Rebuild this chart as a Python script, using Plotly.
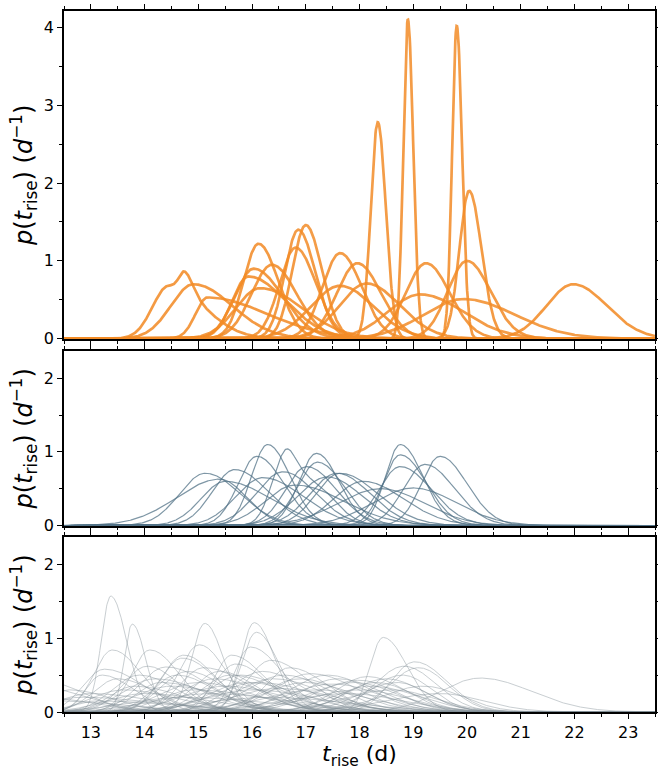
import numpy as np
import plotly.graph_objects as go

# ---------------- data ----------------
# each density curve: peak position (d), peak height (1/d), left / right widths (d)
# curves sharing the same group id are summed into one line
TOP_GROUP  = [0, 1, 2, 3, 4, 5, 5, 6, 7, 8, 9, 10, 11, 12, 13, 14, 15, 16, 17, 18, 19, 20, 21, 22, 23]
TOP_CENTER = [18.90, 19.81, 18.34, 20.04, 21.98, 14.45, 14.75, 14.91, 15.17, 16.12, 16.03, 15.93, 16.37, 16.15,
              16.86, 17.00, 16.81, 17.64, 17.96, 17.64, 18.13, 19.24, 20.00, 19.13, 19.94]
TOP_PEAK   = [4.10, 4.02, 2.78, 1.90, 0.70, 0.68, 0.25, 0.70, 0.53, 1.22, 0.90, 0.80, 0.95, 0.65,
              1.40, 1.46, 1.17, 1.10, 0.97, 0.68, 0.71, 0.97, 1.00, 0.57, 0.51]
TOP_WL     = [0.085, 0.085, 0.13, 0.18, 0.50, 0.30, 0.10, 0.42, 0.22, 0.28, 0.35, 0.30, 0.38, 0.45,
              0.25, 0.25, 0.30, 0.33, 0.38, 0.55, 0.50, 0.38, 0.36, 0.60, 0.75]
TOP_WR     = [0.10, 0.10, 0.15, 0.23, 0.62, 0.65, 0.15, 0.72, 1.10, 0.37, 0.54, 0.70, 0.46, 0.78,
              0.32, 0.30, 0.38, 0.40, 0.44, 0.62, 0.62, 0.44, 0.44, 0.80, 0.95]

MID_GROUP  = [0, 1, 2, 3, 4, 5, 6, 6, 7, 8, 9, 10, 11, 12, 13, 14, 15, 16, 17, 18, 19, 20, 21, 22, 23]
MID_CENTER = [15.13, 15.68, 15.40, 15.50, 16.09, 16.29, 16.60, 17.05, 17.20, 17.22, 17.02, 16.58, 17.58,
              17.40, 17.64, 18.07, 18.76, 18.76, 18.76, 19.22, 19.50, 19.00, 18.40, 16.80, 16.20]
MID_PEAK   = [0.71, 0.76, 0.63, 0.60, 0.94, 1.10, 0.82, 0.60, 0.98, 0.86, 0.80, 0.73, 0.71,
              0.66, 0.71, 0.60, 1.10, 0.96, 0.80, 0.83, 0.94, 0.51, 0.50, 0.55, 0.65]
MID_WL     = [0.48, 0.42, 0.80, 0.45, 0.35, 0.30, 0.25, 0.30, 0.33, 0.38, 0.40, 0.50, 0.50,
              0.55, 0.45, 0.55, 0.28, 0.32, 0.40, 0.40, 0.35, 0.75, 0.80, 0.55, 0.50]
MID_WR     = [0.65, 0.62, 0.50, 0.85, 0.50, 0.42, 0.20, 0.45, 0.42, 0.50, 0.55, 0.60, 0.62,
              0.65, 0.70, 0.75, 0.42, 0.48, 0.58, 0.55, 0.50, 0.80, 0.80, 0.90, 0.75]

BOT_CENTER = [13.37, 13.77, 13.40, 14.10, 15.12, 15.02, 14.73, 14.70, 16.04, 16.08, 15.97, 15.62, 13.25, 14.40,
              15.10, 16.35, 17.10, 18.44, 19.03, 18.83, 19.10, 20.25, 18.15, 18.00, 12.20, 12.00, 12.30, 13.90,
              14.20, 14.80, 15.40, 15.80, 16.20, 16.60, 17.00, 17.50, 17.90, 18.50, 18.70, 19.20, 13.60, 14.00,
              14.50, 15.00, 15.50, 16.00, 16.50, 17.20, 18.00, 18.60, 13.00, 12.80, 13.50, 14.60, 15.30, 15.70,
              16.40, 16.90, 17.60, 18.30, 14.30, 14.90, 15.90, 13.80, 12.60, 13.10, 17.80, 19.50, 16.70, 15.60,
              14.05, 18.80, 17.40, 16.10, 15.20, 13.20, 12.40, 14.70, 18.20, 16.30]
BOT_PEAK   = [1.57, 1.19, 0.84, 0.84, 1.20, 0.91, 0.77, 0.73, 1.21, 1.08, 0.88, 0.77, 0.58, 0.61,
              0.60, 0.70, 0.52, 1.01, 0.68, 0.62, 0.60, 0.46, 0.48, 0.43, 0.40, 0.34, 0.18, 0.50,
              0.45, 0.55, 0.55, 0.50, 0.55, 0.50, 0.40, 0.38, 0.40, 0.45, 0.40, 0.35, 0.30, 0.25,
              0.35, 0.40, 0.35, 0.30, 0.32, 0.30, 0.30, 0.30, 0.25, 0.20, 0.45, 0.50, 0.45, 0.65,
              0.45, 0.45, 0.45, 0.40, 0.40, 0.30, 0.40, 0.35, 0.30, 0.15, 0.25, 0.25, 0.60, 0.50,
              0.62, 0.50, 0.50, 0.40, 0.25, 0.50, 0.15, 0.20, 0.35, 0.20]
BOT_WL     = [0.18, 0.15, 0.35, 0.35, 0.25, 0.38, 0.42, 0.40, 0.25, 0.28, 0.30, 0.32, 0.40, 0.50,
              0.45, 0.45, 0.70, 0.25, 0.45, 0.55, 0.55, 0.75, 0.60, 0.80, 0.60, 0.60, 0.50, 0.50,
              0.60, 0.50, 0.50, 0.60, 0.60, 0.70, 0.80, 0.85, 0.85, 0.70, 0.70, 0.80, 0.60, 0.70,
              0.70, 0.70, 0.80, 0.90, 0.90, 1.00, 1.00, 0.90, 0.60, 0.50, 0.45, 0.45, 0.60, 0.40,
              0.70, 0.70, 0.70, 0.60, 0.45, 0.60, 0.70, 0.45, 0.35, 0.40, 1.20, 1.00, 0.45, 0.55,
              0.45, 0.60, 0.70, 0.80, 1.00, 0.30, 0.40, 1.00, 0.70, 1.20]
BOT_WR     = [0.30, 0.25, 0.55, 0.55, 0.35, 0.50, 0.60, 0.65, 0.38, 0.42, 0.60, 0.62, 0.75, 0.80,
              0.85, 0.70, 0.85, 0.45, 0.60, 0.60, 0.55, 0.95, 0.70, 0.70, 0.70, 0.90, 0.80, 0.70,
              0.90, 0.70, 0.70, 0.80, 0.75, 0.80, 0.90, 0.90, 0.80, 0.70, 0.60, 0.70, 1.00, 1.20,
              1.00, 1.00, 1.10, 1.20, 1.10, 1.00, 0.90, 0.80, 1.20, 1.50, 0.70, 0.70, 0.90, 0.60,
              0.90, 0.80, 0.80, 0.70, 1.00, 1.40, 1.00, 0.90, 0.80, 1.50, 1.00, 0.80, 0.70, 0.90,
              0.60, 0.55, 0.80, 1.10, 1.50, 0.60, 1.20, 1.60, 0.90, 1.50]

X_RANGE = [12.5, 23.5]
TOP_YRANGE = [0, 4.21]
LOW_YRANGE = [0, 2.37]
X_TICKS = list(range(13, 24))

# ---------------- build curves ----------------
xs = np.linspace(X_RANGE[0], X_RANGE[1], 1401)


def split_normal(c, a, wl, wr):
    s = np.where(xs < c, wl, wr)
    return a * np.exp(-0.5 * ((xs - c) / s) ** 2)


def curves(groups, centers, peaks, wl, wr):
    out = {}
    for g, c, a, l, r in zip(groups, centers, peaks, wl, wr):
        out[g] = out.get(g, 0) + split_normal(c, a, l, r)
    return [out[k] for k in sorted(out)]


top_curves = curves(TOP_GROUP, TOP_CENTER, TOP_PEAK, TOP_WL, TOP_WR)
mid_curves = curves(MID_GROUP, MID_CENTER, MID_PEAK, MID_WL, MID_WR)
bot_curves = curves(list(range(len(BOT_CENTER))), BOT_CENTER, BOT_PEAK, BOT_WL, BOT_WR)

fig = go.Figure()

for y in bot_curves:
    fig.add_trace(go.Scatter(x=xs, y=y, mode="lines", xaxis="x3", yaxis="y3",
                             line=dict(color="rgb(132,144,152)", width=0.8), opacity=0.55,
                             hoverinfo="skip", showlegend=False))
for y in mid_curves:
    fig.add_trace(go.Scatter(x=xs, y=y, mode="lines", xaxis="x2", yaxis="y2",
                             line=dict(color="rgb(84,116,136)", width=1.2), opacity=0.75,
                             hoverinfo="skip", showlegend=False))
for y in top_curves:
    fig.add_trace(go.Scatter(x=xs, y=y, mode="lines", xaxis="x", yaxis="y",
                             line=dict(color="rgb(242,140,40)", width=2.7), opacity=0.85,
                             hoverinfo="skip", showlegend=False))

FONT = "DejaVu Sans"
ytitle = "<i>p</i>(<i>t</i><sub>rise</sub>) (<i>d</i><sup>\u22121</sup>)"

common_axis = dict(showline=True, linecolor="black", linewidth=1.8, mirror="ticks",
                   ticks="outside", ticklen=5, tickwidth=1.3, tickcolor="black",
                   showgrid=False, zeroline=False, automargin=False,
                   tickfont=dict(family=FONT, size=16, color="black"))


def xaxis(anchor, labels):
    d = dict(common_axis)
    d.update(range=X_RANGE, tickvals=X_TICKS, anchor=anchor, domain=[0, 1],
             showticklabels=labels,
             minor=dict(dtick=0.5, tick0=12.5, ticks="outside", ticklen=3, tickwidth=1, tickcolor="black"))
    return d


def yaxis(domain, rng, anchor):
    d = dict(common_axis)
    d.update(range=rng, domain=domain, anchor=anchor, dtick=1, tick0=0,
             minor=dict(dtick=0.5, ticks="outside", ticklen=3, tickwidth=1, tickcolor="black"),
             title=dict(text=ytitle, font=dict(family=FONT, size=24, color="black"), standoff=4))
    return d


fig.update_layout(
    width=658, height=770, autosize=False,
    margin=dict(l=64, r=3, t=11, b=58),
    paper_bgcolor="white", plot_bgcolor="white",
    font=dict(family=FONT, color="black"),
    xaxis=xaxis("y", False),
    xaxis2=xaxis("y2", False),
    xaxis3=xaxis("y3", True),
    yaxis=yaxis([0.5325, 1.0], TOP_YRANGE, "x"),
    yaxis2=yaxis([0.266, 0.515], LOW_YRANGE, "x2"),
    yaxis3=yaxis([0.0, 0.2496], LOW_YRANGE, "x3"),
)
fig.layout.xaxis3.title = dict(text="<i>t</i><sub>rise</sub> (d)",
                               font=dict(family=FONT, size=22, color="black"), standoff=4)

fig.write_html(
    "out.html",
    config={"responsive": False, "displayModeBar": False},
    post_script="document.body.style.margin='0px';document.body.style.overflow='hidden';",
)
